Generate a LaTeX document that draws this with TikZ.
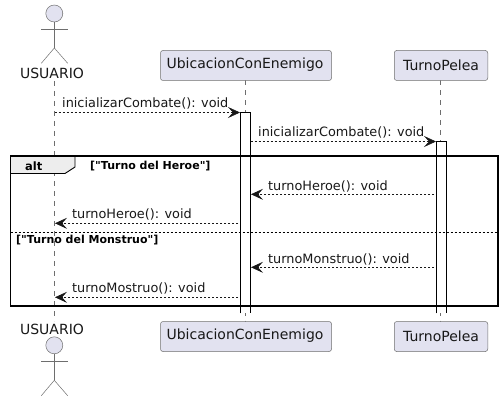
\documentclass[tikz,border=0pt]{standalone}
\usepackage{fontspec}
\setmainfont{DejaVu Sans}[Ligatures=TeXOff]
\usetikzlibrary{arrows.meta}
\definecolor{partfill}{HTML}{E2E2F0}
\definecolor{partline}{HTML}{6E6E6E}
\definecolor{ink}{HTML}{181818}
\tikzset{
  x=1pt,y=-1pt,
  lifeline/.style={draw=partline,line width=.5pt,dash pattern=on 5pt off 5pt},
  partbox/.style={draw=partline,fill=partfill,line width=.5pt,rounded corners=2.5pt},
  partlabel/.style={inner sep=0pt,text=ink,font=\fontsize{14}{16}\selectfont},
  actorline/.style={draw=partline,line width=.5pt},
  actorhead/.style={draw=partline,fill=partfill,line width=.5pt,circle,minimum size=17pt,inner sep=0pt},
  actbar/.style={fill=white,line width=.8pt},
  barside/.style={draw=black,line width=.8pt},
  msg/.style={draw=ink,line width=.6pt,dash pattern=on 2pt off 2pt,-{Stealth[length=12pt,width=11pt,inset=5pt,fill=ink]}},
  msglabel/.style={inner sep=0pt,anchor=base west,text=ink,font=\fontsize{12.85}{15}\selectfont},
  framebox/.style={draw=black,line width=1.8pt},
  guard/.style={inner sep=0pt,anchor=base west,text=black,font=\fontsize{11}{13}\selectfont\bfseries},
}
\begin{document}
\begin{tikzpicture}
\useasboundingbox (0,0) rectangle (503,401);
% lifeline ends
\coordinate (uT) at (54.5,81);
\coordinate (uB) at (54.5,321);
\coordinate (cT) at (245.5,80.5);
\coordinate (cB) at (245.5,321.5);
\coordinate (pT) at (440.5,80.5);
\coordinate (pB) at (440.5,321.5);
\draw[lifeline] (uT) -- (uB);
\draw[lifeline] (cT) -- (cB);
\draw[lifeline] (pT) -- (pB);
% participant boxes
\node[partbox,minimum width=171pt,minimum height=30pt,inner sep=0pt] (cTop) at (246,65.5) {};
\node[partlabel] (cTopL) at (245,65) {UbicacionConEnemigo};
\node[partbox,minimum width=93.5pt,minimum height=30pt,inner sep=0pt] (pTop) at (441,65.5) {};
\node[partlabel] (pTopL) at (441,65) {TurnoPelea};
\node[partbox,minimum width=171pt,minimum height=30pt,inner sep=0pt] (cBot) at (246,336.5) {};
\node[partlabel] (cBotL) at (245,336) {UbicacionConEnemigo};
\node[partbox,minimum width=93.5pt,minimum height=30pt,inner sep=0pt] (pBot) at (441,336.5) {};
\node[partlabel] (pBotL) at (441,336) {TurnoPelea};
% actors
\node[actorhead] (h1) at (54.3,13.5) {};
\coordinate (b1) at (54.3,48);
\coordinate (al1) at (41.3,29);
\coordinate (ar1) at (67.7,29);
\coordinate (ll1) at (41.3,63.3);
\coordinate (lr1) at (67.7,63.3);
\draw[actorline] (h1.south) -- (b1);
\draw[actorline] (al1) -- (ar1);
\draw[actorline] (ll1) -- (b1) -- (lr1);
\node[partlabel] (ua) at (52,73) {USUARIO};
\node[partlabel] (ub) at (52,329) {USUARIO};
\node[actorhead] (h2) at (54.3,345.3) {};
\coordinate (b2) at (54.3,380.3);
\coordinate (al2) at (41.3,361.3);
\coordinate (ar2) at (67.7,361.3);
\coordinate (ll2) at (41.3,395.7);
\coordinate (lr2) at (67.7,395.7);
\draw[actorline] (h2.south) -- (b2);
\draw[actorline] (al2) -- (ar2);
\draw[actorline] (ll2) -- (b2) -- (lr2);
% activation bars
\node[actbar,minimum width=9.7pt,minimum height=200pt,inner sep=0pt,anchor=north] (barC) at (245.5,112.5) {};
\draw[barside] (barC.south west) -- (barC.north west) -- (barC.north east) -- (barC.south east);
\node[actbar,minimum width=9.7pt,minimum height=171.5pt,inner sep=0pt,anchor=north] (barP) at (441.5,141) {};
\draw[barside] (barP.south west) -- (barP.north west) -- (barP.north east) -- (barP.south east);
% frame
\node[minimum width=487.2pt,minimum height=149.6pt,inner sep=0pt,anchor=north west] (frm) at (10.5,155.7) {};
\coordinate (t1) at (75,155.7);
\coordinate (t2) at (75,167);
\coordinate (t3) at (65,173.5);
\coordinate (t4) at (10.5,173.5);
\fill[black!7] (frm.north west) -- (t1) -- (t2) -- (t3) -- (t4) -- cycle;
\draw[line width=.9pt] (t1) -- (t2) -- (t3) -- (t4);
\draw[framebox] (frm.north west) rectangle (frm.south east);
\node[inner sep=0pt,anchor=base west,font=\fontsize{11.5}{14}\selectfont\bfseries] (altL) at (25,170) {alt};
\node[guard] (g1) at (90,169) {["Turno del Heroe"]};
\coordinate (dL) at (10.5,232.3);
\coordinate (dR) at (497.7,232.3);
\draw[draw=black,line width=.6pt,dash pattern=on 2pt off 2pt] (dL) -- (dR);
\node[guard] (g2) at (16,243.5) {["Turno del Monstruo"]};
% messages
\coordinate (m1a) at (54.5,112.5);
\coordinate (m1b) at (240,112.5);
\coordinate (m2a) at (250.5,141.5);
\coordinate (m2b) at (436,141.5);
\coordinate (m3a) at (434,194.3);
\coordinate (m3b) at (251,194.3);
\coordinate (m4a) at (238,223.3);
\coordinate (m4b) at (55,223.3);
\coordinate (m5a) at (434,267.3);
\coordinate (m5b) at (251,267.3);
\coordinate (m6a) at (238,297.3);
\coordinate (m6b) at (55,297.3);
\draw[msg] (m1a) -- (m1b);
\draw[msg] (m2a) -- (m2b);
\draw[msg] (m3a) -- (m3b);
\draw[msg] (m4a) -- (m4b);
\draw[msg] (m5a) -- (m5b);
\draw[msg] (m6a) -- (m6b);
\node[msglabel] (l1) at (62,107.5) {inicializarCombate(): void};
\node[msglabel] (l2) at (258,136) {inicializarCombate(): void};
\node[msglabel] (l3) at (268,190) {turnoHeroe(): void};
\node[msglabel] (l4) at (72,218.5) {turnoHeroe(): void};
\node[msglabel] (l5) at (268,263) {turnoMonstruo(): void};
\node[msglabel] (l6) at (72,292.5) {turnoMostruo(): void};
\end{tikzpicture}
\end{document}
